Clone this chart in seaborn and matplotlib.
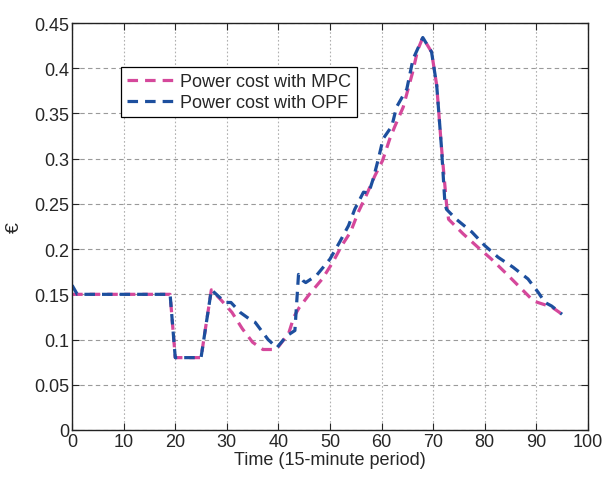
import pandas as pd
import seaborn as sns
import matplotlib
matplotlib.use('Agg')
import matplotlib.pyplot as plt
from matplotlib.ticker import FormatStrFormatter

# breakpoints (time step, cost in euro)
mpc_time = [0, 19, 20, 25, 27, 29, 31, 33, 35, 37, 39, 40, 42, 43, 44, 46, 48.5, 50.5,
            52.3, 54, 55.5, 57, 58.7, 60.2, 61.6, 62.6, 64.2, 66, 67, 68, 69.7, 70.7,
            71.6, 72.6, 73, 75.8, 78.7, 81.3, 84, 86.8, 89.4, 90.3, 93, 95]
mpc_cost = [0.15, 0.15, 0.08, 0.08, 0.155, 0.143, 0.13, 0.112, 0.097, 0.089, 0.089, 0.092,
            0.107, 0.125, 0.135, 0.15, 0.167, 0.185, 0.204, 0.219, 0.241, 0.259, 0.281,
            0.298, 0.322, 0.336, 0.357, 0.395, 0.42, 0.434, 0.418, 0.381, 0.314, 0.25,
            0.233, 0.217, 0.202, 0.189, 0.174, 0.158, 0.143, 0.141, 0.136, 0.128]

opf_time = [0, 1, 19, 20, 25, 27, 29.7, 30.8, 32.6, 34.8, 35.5, 38, 39.7, 41.6, 43.2, 43.9,
            44.8, 45.3, 47.4, 50, 51.9, 53.6, 54.8, 56.5, 57.5, 58.4, 59.4, 60.3, 62, 62.9,
            64.9, 66.1, 68, 69.7, 70.7, 71.6, 72.3, 72.6, 74.5, 77.5, 80, 82.6, 85.5, 88.4,
            90.4, 91.7, 93, 95]
opf_cost = [0.16, 0.15, 0.15, 0.08, 0.08, 0.155, 0.141, 0.141, 0.13, 0.121, 0.119, 0.1,
            0.091, 0.104, 0.11, 0.172, 0.165, 0.163, 0.171, 0.189, 0.208, 0.226, 0.244,
            0.263, 0.262, 0.278, 0.3, 0.322, 0.336, 0.357, 0.377, 0.41, 0.434, 0.418,
            0.381, 0.314, 0.25, 0.244, 0.233, 0.219, 0.204, 0.191, 0.18, 0.167, 0.152,
            0.141, 0.137, 0.128]

labels = ['Power cost with MPC', 'Power cost with OPF']
colors = ['#d5489b', '#1d4f9e']

sns.set_style('ticks')
plt.rcParams['font.family'] = ['Liberation Sans', 'DejaVu Sans']
plt.rcParams['xtick.direction'] = 'in'
plt.rcParams['ytick.direction'] = 'in'

fig = plt.figure(figsize=(6.06, 4.81), dpi=100)
ax = fig.add_axes([0.119, 0.104, 0.851, 0.846])

mpc = pd.DataFrame({'time': mpc_time, 'cost': mpc_cost})
opf = pd.DataFrame({'time': opf_time, 'cost': opf_cost})

sns.lineplot(data=mpc, x='time', y='cost', ax=ax, color=colors[0], label=labels[0],
             linewidth=2.3, linestyle=(0, (3.3, 2.2)))
sns.lineplot(data=opf, x='time', y='cost', ax=ax, color=colors[1], label=labels[1],
             linewidth=2.3, linestyle=(0, (3.3, 2.2)))

ax.set_xlim(0, 100)
ax.set_ylim(0, 0.45)
ax.set_xticks(range(0, 101, 10))
ax.set_yticks([0, 0.05, 0.1, 0.15, 0.2, 0.25, 0.3, 0.35, 0.4, 0.45])
ax.yaxis.set_major_formatter(FormatStrFormatter('%g'))
ax.tick_params(labelsize=13, top=True, right=True, length=5, width=0.8, pad=2)
ax.grid(axis='y', color='#9a9a9a', linestyle=(0, (4, 3)), linewidth=0.8)
ax.grid(axis='x', color='#b0b0b0', linestyle=(0, (1.5, 2)), linewidth=0.8)
for s in ax.spines.values():
    s.set_linewidth(1.0)
    s.set_color('#222222')

ax.set_xlabel('Time (15-minute period)', fontsize=13, labelpad=1)
ax.set_ylabel('€', fontsize=14, labelpad=8)

leg = ax.legend(loc='upper left', bbox_to_anchor=(0.095, 0.892), fontsize=13,
                frameon=True, fancybox=False, framealpha=1, edgecolor='black',
                handlelength=2.6, handletextpad=0.3, borderpad=0.35, labelspacing=0.2,
                borderaxespad=0)
leg.get_frame().set_linewidth(0.9)

fig.savefig('out.png', dpi=100)
